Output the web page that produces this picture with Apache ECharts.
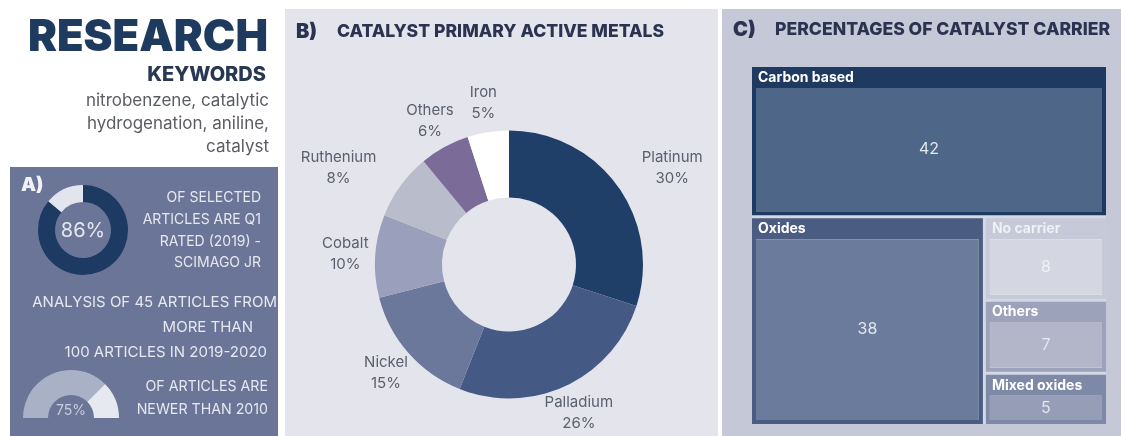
<!DOCTYPE html>
<html>
<head>
<meta charset="utf-8">
<script src="https://cdn.jsdelivr.net/npm/echarts@6/dist/echarts.min.js"></script>
<style>
html,body{margin:0;padding:0;background:#ffffff;}
#chart{width:1121px;height:436px;}
</style>
</head>
<body>
<div id="chart"></div>
<script>
// ---------- data ----------
const metalNames = ['Platinum', 'Palladium', 'Nickel', 'Cobalt', 'Ruthenium', 'Others', 'Iron'];
const metalShares = [30, 26, 15, 10, 8, 6, 5];
const carrierNames = ['Carbon based', 'Oxides', 'No carrier', 'Others', 'Mixed oxides'];
const carrierValues = [42, 38, 8, 7, 5];
const q1RatedPercent = 86;
const newerThan2010Percent = 75;
const keywordLines = ['nitrobenzene, catalytic', 'hydrogenation, aniline,', 'catalyst'];
const q1Lines = ['OF SELECTED', 'ARTICLES ARE Q1', 'RATED (2019) -', 'SCIMAGO JR'];
const analysisLines = ['ANALYSIS OF 45 ARTICLES FROM', 'MORE THAN', '100 ARTICLES IN 2019-2020'];
const newerLines = ['OF ARTICLES ARE', 'NEWER THAN 2010'];

// ---------- styles ----------
const FONT = 'Inter, "Noto Sans", sans-serif';
const metalColors = ['#1f3f69', '#445a85', '#6c779c', '#9aa0bb', '#b9bccb', '#7b6b98', '#ffffff'];
const metalLabelAlign = ['side', 'center', 'center', 'center', 'side', 'center', 'center'];
const carrierHeaderColors = ['#1e3a61', '#4b5c82', '#c6c9d7', '#9ca2b9', '#7e88a7'];
const carrierFillColors = ['#4e6789', '#6b7b9b', '#d4d7e1', '#b2b6c8', '#959db7'];
const carrierTextColors = ['#ffffff', '#ffffff', '#eef0f5', '#ffffff', '#ffffff'];

const chart = echarts.init(document.getElementById('chart'), null, {renderer: 'canvas'});

function txt(text, x, y, o) {
  return {
    type: 'text', x: x, y: y, silent: true, z: 10,
    style: Object.assign({
      text: text, fontFamily: FONT, fontSize: 13, fill: '#e6e8ef',
      align: 'left', verticalAlign: 'middle'
    }, o || {})
  };
}

const graphics = [
  // panels
  {type: 'rect', shape: {x: 10, y: 167, width: 268, height: 269}, style: {fill: '#6b7598'}, silent: true, z: 0},
  {type: 'rect', shape: {x: 285, y: 9, width: 433, height: 427}, style: {fill: '#e3e4ec'}, silent: true, z: 0},
  {type: 'rect', shape: {x: 722, y: 9, width: 399, height: 427}, style: {fill: '#c5c8d6'}, silent: true, z: 0},
  // header block
  txt('RESEARCH', 268, 38, {align: 'right', fontSize: 43.5, fontWeight: 900, fill: '#1f3a5f'}),
  txt('KEYWORDS', 266, 75, {align: 'right', fontSize: 20, fontWeight: 800, fill: '#283852'}),
  // titles
  txt('B)', 296, 32, {fontSize: 20, fontWeight: 900, fill: '#2b3350'}),
  txt('CATALYST PRIMARY ACTIVE METALS', 337, 32, {fontSize: 17.6, fontWeight: 800, fill: '#2b3350'}),
  txt('C)', 733, 30, {fontSize: 20, fontWeight: 900, fill: '#2b3350'}),
  txt('PERCENTAGES OF CATALYST CARRIER', 775, 30, {fontSize: 17.6, fontWeight: 800, fill: '#2b3350'}),
  // panel A
  txt('A)', 21, 185, {fontSize: 19, fontWeight: 900, fill: '#f2f3f7'}),
  txt(q1RatedPercent + '%', 83, 231, {align: 'center', fontSize: 20, fill: '#e4e7ee'}),
  txt(newerThan2010Percent + '%', 71, 411, {align: 'center', fontSize: 14, fill: '#c9cedb'})
];
keywordLines.forEach(function (l, i) {
  graphics.push(txt(l, 269, 101 + i * 23, {align: 'right', fontSize: 17, fill: '#5a5c63'}));
});
q1Lines.forEach(function (l, i) {
  graphics.push(txt(l, 261, 198 + i * 21.7, {align: 'right', fontSize: 14}));
});
const analysisRight = [277, 253, 267];
analysisLines.forEach(function (l, i) {
  graphics.push(txt(l, analysisRight[i], 302 + i * 25, {align: 'right', fontSize: 15}));
});
newerLines.forEach(function (l, i) {
  graphics.push(txt(l, 268, 387 + i * 23, {align: 'right', fontSize: 14.2}));
});

const option = {
  animation: false,
  graphic: graphics,
  series: [
    {
      type: 'pie', silent: true,
      center: [83, 230], radius: [28, 45], startAngle: 90, clockwise: true,
      label: {show: false}, labelLine: {show: false},
      data: [
        {value: q1RatedPercent, itemStyle: {color: '#1d3a63'}},
        {value: 100 - q1RatedPercent, itemStyle: {color: '#e2e5ee'}}
      ]
    },
    {
      type: 'pie', silent: true,
      center: [71, 418], radius: [23, 48], startAngle: 180, endAngle: 0, clockwise: true,
      label: {show: false}, labelLine: {show: false},
      data: [
        {value: newerThan2010Percent, itemStyle: {color: '#a9b1c7'}},
        {value: 100 - newerThan2010Percent, itemStyle: {color: '#e7e9f0'}}
      ]
    },
    {
      type: 'pie', silent: true,
      center: [509, 264.5], radius: [67, 134], startAngle: 90, clockwise: true,
      avoidLabelOverlap: false,
      label: {
        show: true, position: 'outside', distanceToLabelLine: 0,
        formatter: '{n|{b}}\n{n|{c}%}',
        rich: {n: {align: 'center', fontSize: 15, lineHeight: 21, color: '#5b606e', fontFamily: FONT}}
      },
      labelLine: {show: false, length: 30, length2: 0},
      labelLayout: function (p) {
        return metalLabelAlign[p.dataIndex] === 'center' ? {align: 'center'} : {};
      },
      data: metalNames.map(function (n, i) {
        return {name: n, value: metalShares[i], itemStyle: {color: metalColors[i]}};
      })
    },
    {
      type: 'treemap', silent: true,
      left: 752, top: 67, width: 354, height: 357,
      roam: false, nodeClick: false, breadcrumb: {show: false},
      squareRatio: 0.8,
      levels: [
        {itemStyle: {borderWidth: 0, gapWidth: 3, borderColor: '#d3d8e5'}, upperLabel: {show: false}},
        {itemStyle: {borderWidth: 4, gapWidth: 0},
         upperLabel: {show: true, height: 21, fontSize: 14, fontWeight: 'bold', fontFamily: FONT, padding: [0, 0, 0, 2]}},
        {itemStyle: {borderWidth: 0, gapWidth: 0},
         label: {show: true, position: 'inside', align: 'center', verticalAlign: 'middle', padding: 0,
                 formatter: '{c}', fontSize: 16, fontFamily: FONT}}
      ],
      data: carrierNames.map(function (n, i) {
        return {
          name: n,
          itemStyle: {borderColor: carrierHeaderColors[i], color: carrierHeaderColors[i]},
          upperLabel: {color: carrierTextColors[i]},
          children: [{
            name: n, value: carrierValues[i],
            itemStyle: {color: carrierFillColors[i]},
            label: {color: carrierTextColors[i] === '#ffffff' ? '#e3e6ee' : '#eef0f5'}
          }]
        };
      })
    }
  ]
};
chart.setOption(option);
</script>
</body>
</html>
